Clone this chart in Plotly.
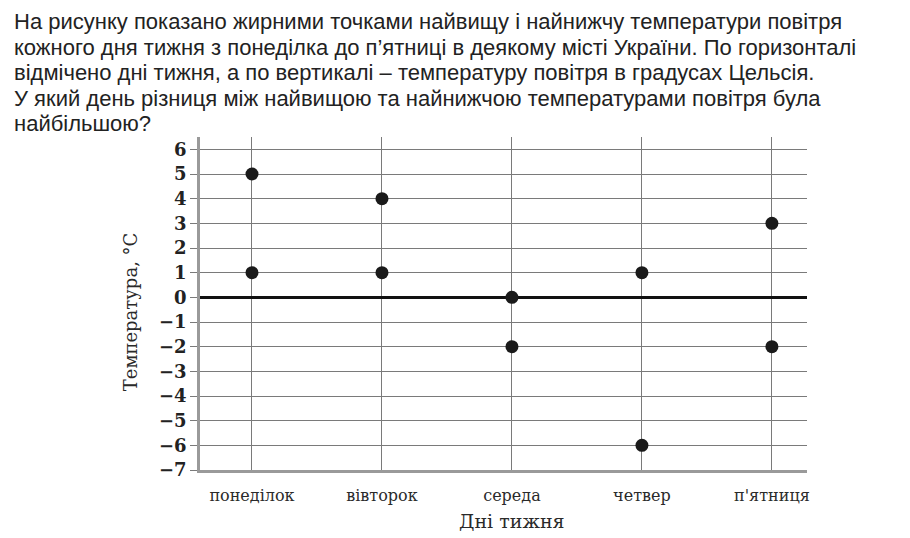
import plotly.graph_objects as go

days = ["понеділок", "вівторок", "середа", "четвер", "п'ятниця"]
t_high = [5, 4, 0, 1, 3]
t_low = [1, 1, -2, -6, -2]
y_ticks = list(range(-7, 7))
y_ticktext = [("−" + str(-v)) if v < 0 else str(v) for v in y_ticks]

question_lines = [
    "На рисунку показано жирними точками найвищу і найнижчу температури повітря",
    "кожного дня тижня з понеділка до п’ятниці в деякому місті України. По горизонталі",
    "відмічено дні тижня, а по вертикалі – температуру повітря в градусах Цельсія.",
    "У який день різниця між найвищою та найнижчою температурами повітря була",
    "найбільшою?",
]

W, H = 910, 538
L, R, T, B = 200, 807, 136.5, 470

xpos = list(range(len(days)))

fig = go.Figure()
fig.add_trace(go.Scatter(
    x=xpos + xpos, y=t_high + t_low, mode="markers",
    marker=dict(size=13, color="#1a1a1a"), showlegend=False, hoverinfo="skip",
))

serif = "DejaVu Serif"

fig.update_layout(
    width=W, height=H,
    margin=dict(l=L, r=W - R, t=T, b=H - B, pad=0),
    paper_bgcolor="white", plot_bgcolor="white",
    xaxis=dict(
        range=[-0.4, 4.27], tickvals=xpos, ticktext=days,
        showgrid=True, gridcolor="#7a7a7a", gridwidth=1,
        showline=True, linecolor="#9a9a9a", linewidth=2.5,
        ticks="outside", ticklen=9, tickcolor="rgba(0,0,0,0)",
        tickfont=dict(family=serif, size=16, color="#2a2a2a"),
        zeroline=False, fixedrange=True,
    ),
    yaxis=dict(
        range=[-7, 6.5], tickvals=y_ticks, ticktext=y_ticktext,
        showgrid=True, gridcolor="#7a7a7a", gridwidth=1,
        showline=True, linecolor="#9a9a9a", linewidth=2.5,
        ticks="outside", ticklen=7, tickcolor="#7a7a7a", tickwidth=1,
        tickfont=dict(family=serif, size=18, color="#222", weight="bold"),
        zeroline=True, zerolinecolor="#111", zerolinewidth=2.5,
        fixedrange=True,
    ),
)

# Question text lines
line_y = [21, 46.5, 72, 97.5, 123]
for txt, py in zip(question_lines, line_y):
    fig.add_annotation(
        text=txt, xref="paper", yref="paper",
        x=(12 - L) / (R - L), y=(B - py) / (B - T),
        xanchor="left", yanchor="middle", showarrow=False,
        font=dict(family="Liberation Sans", size=22, color="#222"),
    )

# Axis titles
fig.add_annotation(
    text="Дні тижня", xref="x", yref="paper", x=2, y=(B - 521) / (B - T),
    xanchor="center", yanchor="middle", showarrow=False,
    font=dict(family=serif, size=19, color="#2a2a2a"),
)
fig.add_annotation(
    text="Температура, °C", xref="paper", yref="paper",
    x=(130 - L) / (R - L), y=(B - 312) / (B - T), textangle=-90,
    xanchor="center", yanchor="middle", showarrow=False,
    font=dict(family=serif, size=18, color="#2a2a2a"),
)

fig.write_html("out.html")
